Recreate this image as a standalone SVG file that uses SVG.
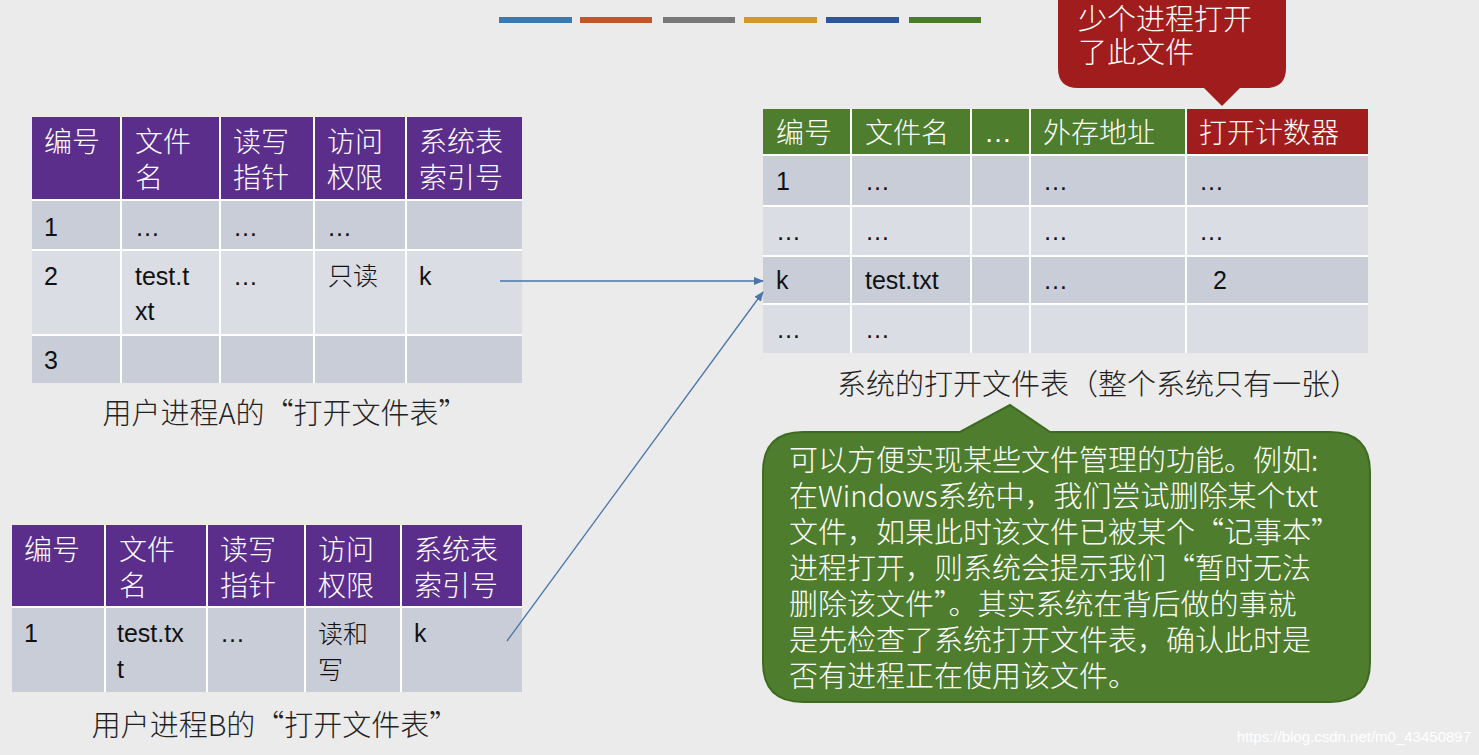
<svg xmlns="http://www.w3.org/2000/svg" width="1479" height="755" viewBox="0 0 1479 755">
<style>
text{font-family:"Liberation Sans","Noto Sans CJK SC",sans-serif}
.c{font-family:"Noto Sans CJK SC",sans-serif;font-weight:300}
.h{fill:#fff;font-size:28px}
.b{fill:#111;font-size:25px}
.cap{fill:#222;font-size:29px}
.w{fill:#fff;font-size:29px}
.g line{stroke:#fff;stroke-width:2}
</style>
<defs><marker id="ar" markerWidth="10" markerHeight="8" refX="9" refY="4" orient="auto" markerUnits="userSpaceOnUse"><path d="M0,0L10,4L0,8z" fill="#4a76a8"/></marker></defs>
<rect width="1479" height="755" fill="#ebebeb"/>
<g id="bars">
<rect x="499" y="17" width="73" height="6" fill="#3a7ab0"/>
<rect x="580" y="17" width="72" height="6" fill="#c0562a"/>
<rect x="663" y="17" width="72" height="6" fill="#787878"/>
<rect x="744" y="17" width="73" height="6" fill="#d4972a"/>
<rect x="826" y="17" width="73" height="6" fill="#2e5597"/>
<rect x="909" y="17" width="72" height="6" fill="#4a7a2a"/>
</g>
<g id="tableA">
<rect x="32" y="117" width="490" height="83" fill="#5b2e8c"/>
<rect x="32" y="200" width="490" height="50" fill="#c9cdd7"/>
<rect x="32" y="250" width="490" height="85" fill="#dadde4"/>
<rect x="32" y="335" width="490" height="48" fill="#c9cdd7"/>
<g class="g"><line x1="121" y1="117" x2="121" y2="383"/><line x1="220" y1="117" x2="220" y2="383"/><line x1="314" y1="117" x2="314" y2="383"/><line x1="406" y1="117" x2="406" y2="383"/><line x1="32" y1="200" x2="522" y2="200"/><line x1="32" y1="250" x2="522" y2="250"/><line x1="32" y1="335" x2="522" y2="335"/></g>
<text class="h c" x="44" y="152">编号</text>
<text class="h c" x="135" y="152">文件</text><text class="h c" x="135" y="188">名</text>
<text class="h c" x="233" y="152">读写</text><text class="h c" x="233" y="188">指针</text>
<text class="h c" x="327" y="152">访问</text><text class="h c" x="327" y="188">权限</text>
<text class="h c" x="419" y="152">系统表</text><text class="h c" x="419" y="188">索引号</text>
<text class="b" x="44" y="236">1</text><text class="b" x="135" y="236">…</text><text class="b" x="233" y="236">…</text><text class="b" x="327" y="236">…</text>
<text class="b" x="44" y="285">2</text><text class="b" x="135" y="285">test.t</text><text class="b" x="135" y="320">xt</text><text class="b" x="233" y="285">…</text><text class="b c" x="328" y="285" font-size="28">只读</text><text class="b" x="419" y="285">k</text>
<text class="b" x="44" y="369">3</text>
<text class="cap c" x="285" y="424" text-anchor="middle">用户进程A的“打开文件表”</text>
</g>
<g id="tableB">
<rect x="12" y="525" width="510" height="82" fill="#5b2e8c"/>
<rect x="12" y="607" width="510" height="85" fill="#c9cdd7"/>
<g class="g"><line x1="105" y1="525" x2="105" y2="692"/><line x1="207" y1="525" x2="207" y2="692"/><line x1="305" y1="525" x2="305" y2="692"/><line x1="401" y1="525" x2="401" y2="692"/><line x1="12" y1="607" x2="522" y2="607"/></g>
<text class="h c" x="24" y="560">编号</text>
<text class="h c" x="119" y="560">文件</text><text class="h c" x="119" y="596">名</text>
<text class="h c" x="220" y="560">读写</text><text class="h c" x="220" y="596">指针</text>
<text class="h c" x="318" y="560">访问</text><text class="h c" x="318" y="596">权限</text>
<text class="h c" x="414" y="560">系统表</text><text class="h c" x="414" y="596">索引号</text>
<text class="b" x="24" y="642">1</text><text class="b" x="117" y="642">test.tx</text><text class="b" x="117" y="678">t</text><text class="b" x="220" y="642">…</text><text class="b c" x="318" y="643" font-size="28">读和</text><text class="b c" x="318" y="679" font-size="28">写</text><text class="b" x="414" y="642">k</text>
<text class="cap c" x="275" y="736" text-anchor="middle">用户进程B的“打开文件表”</text>
</g>
<g id="sysTable">
<rect x="763" y="109" width="423" height="46" fill="#4e7d2e"/>
<rect x="1186" y="109" width="182" height="46" fill="#a11c1c"/>
<rect x="763" y="155" width="605" height="51" fill="#c9cdd7"/>
<rect x="763" y="206" width="605" height="50" fill="#dadde4"/>
<rect x="763" y="256" width="605" height="48" fill="#c9cdd7"/>
<rect x="763" y="304" width="605" height="49" fill="#dadde4"/>
<g class="g"><line x1="851" y1="109" x2="851" y2="353"/><line x1="971" y1="109" x2="971" y2="353"/><line x1="1030" y1="109" x2="1030" y2="353"/><line x1="1186" y1="109" x2="1186" y2="353"/><line x1="763" y1="155" x2="1368" y2="155"/><line x1="763" y1="206" x2="1368" y2="206"/><line x1="763" y1="256" x2="1368" y2="256"/><line x1="763" y1="304" x2="1368" y2="304"/></g>
<text class="h c" x="776" y="143">编号</text><text class="h c" x="865" y="143">文件名</text><text class="h" x="984" y="142">…</text><text class="h c" x="1043" y="143">外存地址</text><text class="h c" x="1199" y="143">打开计数器</text>
<text class="b" x="776" y="190">1</text><text class="b" x="865" y="190">…</text><text class="b" x="1043" y="190">…</text><text class="b" x="1199" y="190">…</text>
<text class="b" x="776" y="240">…</text><text class="b" x="865" y="240">…</text><text class="b" x="1043" y="240">…</text><text class="b" x="1199" y="240">…</text>
<text class="b" x="776" y="289">k</text><text class="b" x="865" y="289">test.txt</text><text class="b" x="1043" y="289">…</text><text class="b" x="1213" y="289">2</text>
<text class="b" x="776" y="338">…</text><text class="b" x="865" y="338">…</text>
<text class="cap c" x="1098" y="395" text-anchor="middle">系统的打开文件表（整个系统只有一张）</text>
</g>
<g id="redCallout">
<path d="M1058,-20H1286V68Q1286,88 1266,88H1240L1222,106L1204,88H1078Q1058,88 1058,68Z" fill="#a11c1c"/>
<text class="w c" x="1078" y="30" font-size="30">少个进程打开</text>
<text class="w c" x="1078" y="63" font-size="30">了此文件</text>
</g>
<g id="greenCallout">
<path d="M803,432H960L1010,405L1050,432H1330Q1370,432 1370,472V662Q1370,702 1330,702H803Q763,702 763,662V472Q763,432 803,432Z" fill="#4e7d2e" stroke="#3f6a22" stroke-width="2"/>
<text class="w c" x="789" y="471">可以方便实现某些文件管理的功能。例如:</text>
<text class="w c" x="789" y="507">在Windows系统中，我们尝试删除某个txt</text>
<text class="w c" x="789" y="543">文件，如果此时该文件已被某个“记事本”</text>
<text class="w c" x="789" y="579">进程打开，则系统会提示我们“暂时无法</text>
<text class="w c" x="789" y="615">删除该文件”。其实系统在背后做的事就</text>
<text class="w c" x="789" y="651">是先检查了系统打开文件表，确认此时是</text>
<text class="w c" x="789" y="687">否有进程正在使用该文件。</text>
</g>
<g id="connectors" stroke="#4a76a8" stroke-width="1.3" fill="none">
<line x1="500" y1="281" x2="763" y2="281" marker-end="url(#ar)"/>
<line x1="507" y1="641" x2="763" y2="292" marker-end="url(#ar)"/>
</g>
<text x="1471" y="742" text-anchor="end" fill="#fff" font-size="15">https://blog.csdn.net/m0_43450897</text>
</svg>
